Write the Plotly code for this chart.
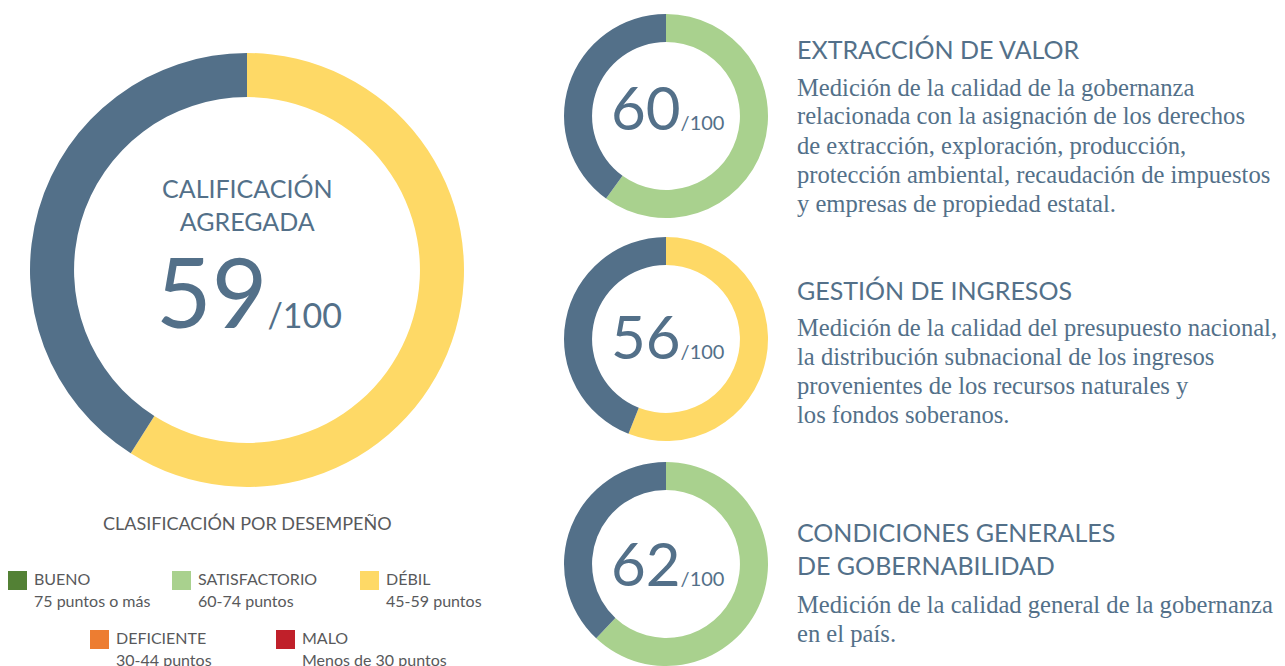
import plotly.graph_objects as go

W, H = 1285, 666
BLUE = "#537089"
GRAY = "#58595b"
SANS = "Lato, 'Open Sans', sans-serif"
SERIF = "'Liberation Serif', 'DejaVu Serif', serif"

# ---- data ----
scores = [59, 60, 56, 62]
max_score = 100
score_colors = ["#FED966", "#A9D18E", "#FED966", "#A9D18E"]

section_titles = [
    "EXTRACCIÓN DE VALOR",
    "GESTIÓN DE INGRESOS",
    "CONDICIONES GENERALES<br>DE GOBERNABILIDAD",
]
section_lines = [
    ["Medición de la calidad de la gobernanza",
     "relacionada con la asignación de los derechos",
     "de extracción, exploración, producción,",
     "protección ambiental, recaudación de impuestos",
     "y empresas de propiedad estatal."],
    ["Medición de la calidad del presupuesto nacional,",
     "la distribución subnacional de los ingresos",
     "provenientes de los recursos naturales y",
     "los fondos soberanos."],
    ["Medición de la calidad general de la gobernanza",
     "en el país."],
]

legend_labels = ["BUENO", "SATISFACTORIO", "DÉBIL", "DEFICIENTE", "MALO"]
legend_ranges = ["75 puntos o más", "60-74 puntos", "45-59 puntos", "30-44 puntos", "Menos de 30 puntos"]
legend_colors = ["#538135", "#A9D18E", "#FED966", "#ED7D31", "#C0202A"]

# ---- layout (pixels) ----
boxes = [(30, 53, 464, 487), (564, 14, 768, 218), (564, 237, 768, 441), (564, 462, 768, 666)]
holes = [0.797, 0.725, 0.725, 0.725]
small_baselines = [130, 359, 586]
title_y = [49, 290, 548]
line_y0 = [87, 327, 604]
LINE_H = 29


def px(x):
    return x / W


def py(y):
    return 1 - y / H


fig = go.Figure()
for s, c, b, h in zip(scores, score_colors, boxes, holes):
    fig.add_trace(go.Pie(
        values=[s, max_score - s],
        marker=dict(colors=[c, BLUE], line=dict(width=0)),
        hole=h, sort=False, direction="clockwise", rotation=0,
        textinfo="none", hoverinfo="skip", showlegend=False,
        domain=dict(x=[px(b[0]), px(b[2])], y=[py(b[3]), py(b[1])]),
    ))

ann = []
# big donut center text
ann.append(dict(x=px(247), y=py(204), text="CALIFICACIÓN<br>AGREGADA", showarrow=False,
                xanchor="center", yanchor="middle",
                font=dict(family=SANS, size=25, color=BLUE)))
ann.append(dict(x=px(249), y=py(350), text=f"{scores[0]}<span style='font-size:34px'>/{max_score}</span>",
                showarrow=False, xanchor="center", yanchor="bottom",
                font=dict(family=SANS, size=96, color=BLUE)))

# small donut center text
for s, b, bl in zip(scores[1:], boxes[1:], small_baselines):
    cx = (b[0] + b[2]) / 2
    ann.append(dict(x=px(cx + 1), y=py(bl + 15), text=f"{s}<span style='font-size:20px'>/{max_score}</span>",
                    showarrow=False, xanchor="center", yanchor="bottom",
                    font=dict(family=SANS, size=60, color=BLUE)))

# section titles and texts
for t, lines, ty, ly0 in zip(section_titles, section_lines, title_y, line_y0):
    ann.append(dict(x=px(795), y=py(ty), text=t, showarrow=False, xanchor="left", yanchor="middle",
                    align="left", font=dict(family=SANS, size=25, color=BLUE)))
    for i, ln in enumerate(lines):
        ann.append(dict(x=px(795), y=py(ly0 + i * LINE_H), text=ln, showarrow=False, xanchor="left",
                        yanchor="middle", align="left", font=dict(family=SERIF, size=24.6, color=BLUE)))

# legend
ann.append(dict(x=px(247), y=py(523), text="CLASIFICACIÓN POR DESEMPEÑO", showarrow=False,
                xanchor="center", yanchor="middle", font=dict(family=SANS, size=18, color=GRAY)))
leg_pos = [(8, 571), (172, 571), (360, 571), (90, 630), (276, 630)]
shapes = []
for lab, rng, col, (lx, ly) in zip(legend_labels, legend_ranges, legend_colors, leg_pos):
    shapes.append(dict(type="rect", xref="paper", yref="paper",
                       x0=px(lx), x1=px(lx + 19), y0=py(ly + 19), y1=py(ly),
                       fillcolor=col, line=dict(width=0)))
    ann.append(dict(x=px(lx + 24), y=py(ly + 7), text=lab, showarrow=False, xanchor="left",
                    yanchor="middle", font=dict(family=SANS, size=16, color=GRAY)))
    ann.append(dict(x=px(lx + 24), y=py(ly + 29), text=rng, showarrow=False, xanchor="left",
                    yanchor="middle", font=dict(family=SANS, size=16, color=GRAY)))

fig.update_layout(
    width=W, height=H, margin=dict(l=0, r=0, t=0, b=0),
    paper_bgcolor="white", plot_bgcolor="white",
    annotations=ann, shapes=shapes,
)
fig.write_html("out.html")
